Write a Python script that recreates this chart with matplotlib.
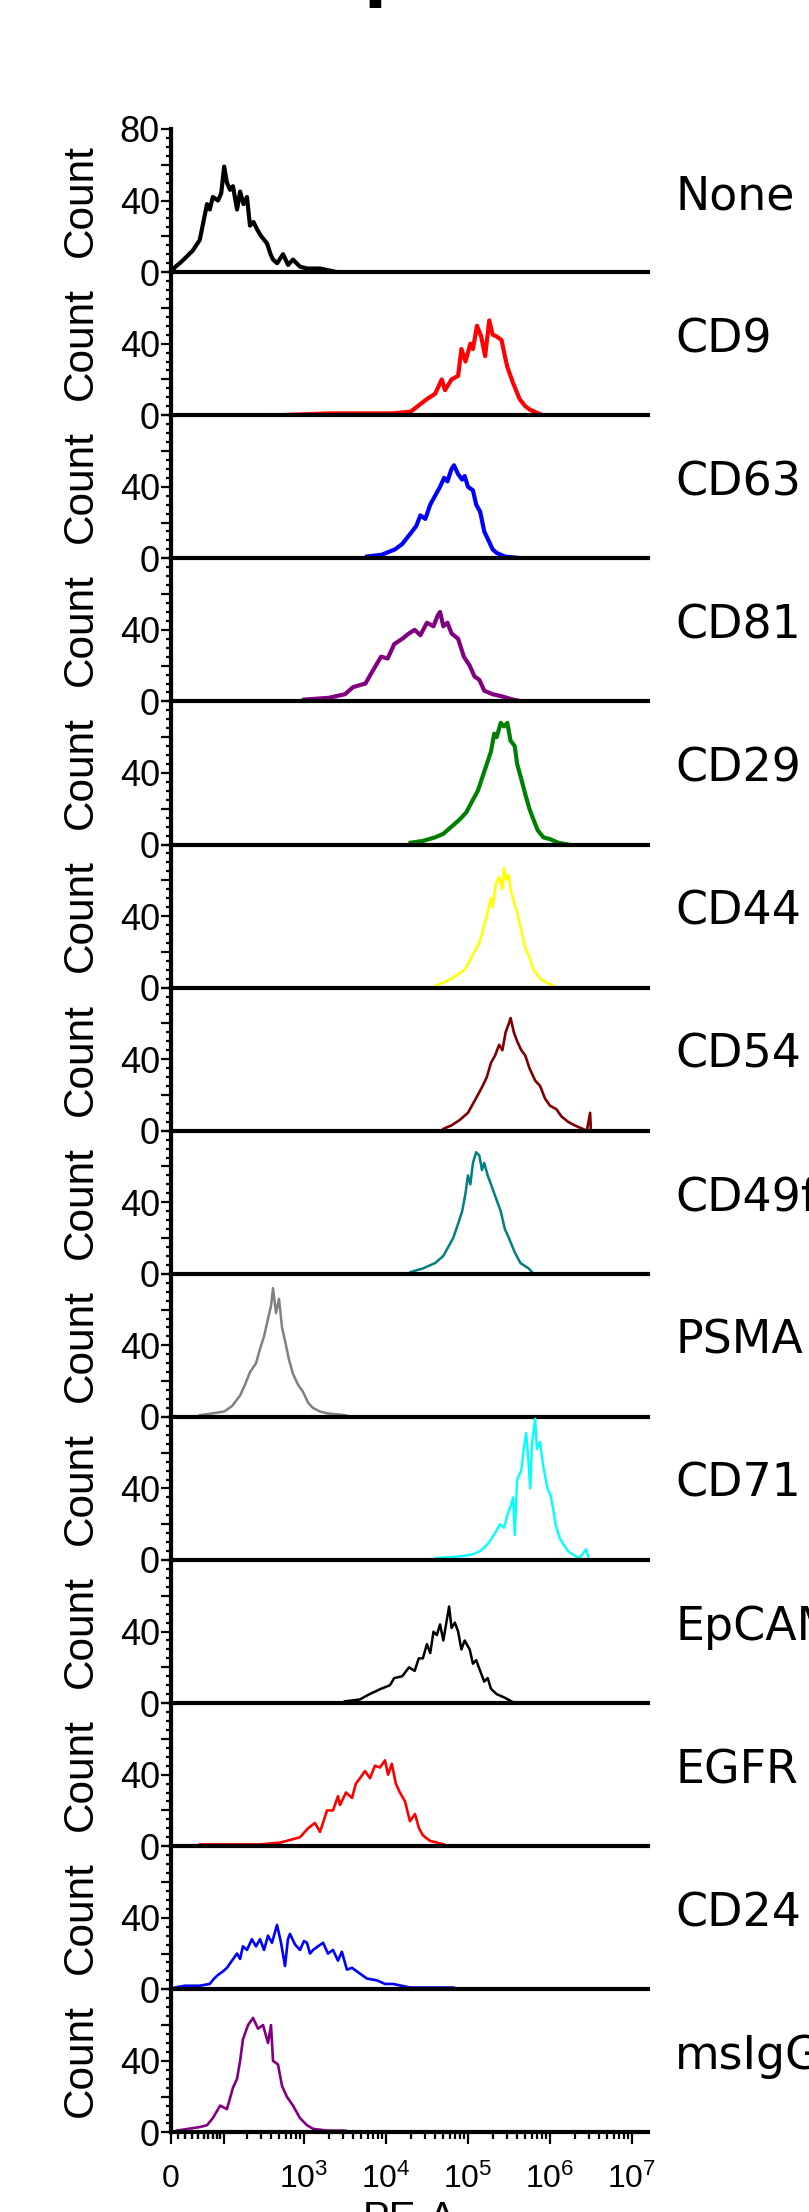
import numpy as np
import matplotlib
matplotlib.use("Agg")
import matplotlib.pyplot as plt
from matplotlib.ticker import MultipleLocator, FixedLocator

plt.rcParams["font.family"] = ["Liberation Sans", "DejaVu Sans"]
plt.rcParams["mathtext.default"] = "regular"

# ---- data (PE-A value, event count) ----
none_x = [0, 6, 12, 20, 31, 43, 49, 57, 63, 70, 83, 92, 101, 110, 121, 132, 149, 163, 180, 199,
          217, 240, 265, 300, 353, 390, 418, 470, 555, 640, 734, 894, 1100, 1568, 2525]
none_y = [0, 3, 5, 8, 12, 18, 27, 38, 35, 42, 40, 44, 59, 50, 46, 48, 35, 45, 38, 42,
          26, 28, 24, 20, 16, 10, 7, 5, 10, 4, 7, 3, 2, 2, 0]

cd9_x = [500, 2.0e3, 6.0e3, 1.22e4, 2.0e4, 3.16e4, 3.98e4, 4.79e4, 5.25e4, 6.31e4, 7.59e4, 8.32e4,
         9.33e4, 1.07e5, 1.15e5, 1.29e5, 1.45e5, 1.62e5, 1.82e5, 2.0e5, 2.24e5, 2.57e5, 2.82e5,
         3.02e5, 3.55e5, 4.27e5, 5.01e5, 5.75e5, 8.13e5]
cd9_y = [0, 1, 1, 1, 2, 9, 12, 20, 14, 20, 22, 37, 30, 40, 37, 50, 44, 33, 53, 45, 44, 42, 33,
         27, 18, 9, 5, 3, 0]

cd63_x = [5.89e3, 8.91e3, 1.29e4, 1.58e4, 2.0e4, 2.34e4, 2.63e4, 3.02e4, 3.47e4, 3.98e4, 4.57e4,
          5.13e4, 5.62e4, 6.31e4, 6.76e4, 7.59e4, 8.51e4, 9.12e4, 1.0e5, 1.15e5, 1.26e5, 1.41e5,
          1.58e5, 1.78e5, 2.0e5, 2.24e5, 2.82e5, 4.57e5]
cd63_y = [1, 2, 5, 8, 14, 18, 24, 22, 30, 35, 40, 45, 43, 50, 52, 47, 44, 46, 40, 38, 30, 26,
          15, 10, 5, 3, 1, 0]

cd81_x = [1.0e3, 2.0e3, 3.16e3, 3.98e3, 5.62e3, 7.08e3, 8.71e3, 1.05e4, 1.26e4, 1.58e4, 1.91e4,
          2.24e4, 2.63e4, 3.16e4, 3.8e4, 4.27e4, 4.57e4, 5.01e4, 5.62e4, 6.31e4, 7.59e4, 8.91e4,
          1.05e5, 1.2e5, 1.38e5, 1.58e5, 2.0e5, 2.51e5, 3.55e5, 4.57e5]
cd81_y = [1, 2, 4, 8, 10, 18, 25, 24, 32, 35, 38, 40, 37, 44, 42, 48, 50, 42, 44, 38, 35, 25,
          20, 14, 12, 6, 4, 3, 1, 0]

cd29_x = [2.0e4, 2.82e4, 3.98e4, 5.01e4, 6.31e4, 7.94e4, 9.55e4, 1.15e5, 1.32e5, 1.51e5, 1.7e5,
          1.91e5, 2.09e5, 2.24e5, 2.51e5, 2.75e5, 3.02e5, 3.31e5, 3.72e5, 3.98e5, 4.57e5, 5.01e5,
          5.62e5, 6.17e5, 7.08e5, 8.32e5, 1.0e6, 1.26e6, 1.66e6]
cd29_y = [1, 2, 4, 6, 10, 14, 18, 25, 30, 38, 45, 52, 62, 60, 68, 66, 68, 58, 55, 45, 35, 28,
          20, 15, 8, 4, 3, 1, 0]

cd44_x = [3.98e4, 5.13e4, 6.31e4, 7.94e4, 9.12e4, 1.05e5, 1.2e5, 1.38e5, 1.58e5, 1.74e5, 1.91e5,
          2.0e5, 2.19e5, 2.4e5, 2.63e5, 2.75e5, 2.95e5, 3.16e5, 3.31e5, 3.63e5, 3.98e5, 4.17e5,
          4.57e5, 5.01e5, 5.5e5, 6.31e5, 7.59e5, 8.91e5, 1.23e6]
cd44_y = [1, 3, 5, 8, 10, 15, 20, 25, 35, 42, 50, 45, 58, 62, 55, 67, 60, 63, 55, 48, 42, 38,
          30, 22, 18, 10, 5, 3, 0]

cd54_x = [5.01e4, 6.31e4, 7.94e4, 1.0e5, 1.15e5, 1.32e5, 1.51e5, 1.7e5, 1.91e5, 2.14e5, 2.4e5,
          2.63e5, 2.88e5, 3.16e5, 3.31e5, 3.63e5, 3.98e5, 4.47e5, 5.01e5, 5.62e5, 6.61e5, 7.59e5,
          8.71e5, 1.0e6, 1.2e6, 1.38e6, 1.66e6, 2.0e6, 2.24e6, 2.82e6, 3.09e6, 3.16e6]
cd54_y = [1, 3, 6, 10, 15, 20, 25, 30, 38, 42, 48, 45, 55, 60, 63, 55, 50, 45, 42, 35, 28, 25,
          18, 14, 12, 8, 5, 3, 2, 0, 10, 0]

cd49f_x = [2.0e4, 2.82e4, 3.98e4, 5.01e4, 5.75e4, 6.61e4, 7.59e4, 8.51e4, 9.33e4, 1.0e5, 1.07e5,
           1.15e5, 1.26e5, 1.38e5, 1.48e5, 1.58e5, 1.74e5, 1.91e5, 2.09e5, 2.29e5, 2.51e5, 2.82e5,
           3.16e5, 3.72e5, 4.37e5, 5.5e5, 6.31e5]
cd49f_y = [1, 3, 6, 10, 15, 20, 28, 35, 45, 55, 50, 62, 68, 66, 58, 62, 55, 50, 45, 40, 35, 25,
           20, 12, 6, 3, 0]

psma_x = [43, 70, 101, 128, 163, 188, 217, 258, 289, 324, 363, 395, 418, 455, 495, 539, 603, 656,
          734, 846, 973, 1120, 1287, 1568, 1908, 3165, 3640]
psma_y = [1, 2, 3, 6, 12, 18, 25, 30, 38, 45, 55, 62, 72, 58, 66, 50, 40, 32, 24, 18, 14, 8, 5,
          3, 2, 1, 0]

cd71_x = [3.98e4, 7.76e4, 1.12e5, 1.41e5, 1.66e5, 1.82e5, 2.14e5, 2.45e5, 2.75e5, 3.02e5, 3.31e5,
          3.55e5, 3.72e5, 3.98e5, 4.47e5, 4.79e5, 5.13e5, 5.37e5, 5.75e5, 6.03e5, 6.61e5, 6.92e5,
          7.59e5, 8.13e5, 8.71e5, 9.33e5, 1.02e6, 1.1e6, 1.17e6, 1.32e6, 1.45e6, 1.66e6, 1.91e6,
          2.29e6, 2.75e6, 3.02e6]
cd71_y = [1, 2, 3, 5, 8, 10, 15, 20, 18, 25, 30, 35, 14, 45, 50, 62, 71, 60, 40, 65, 79, 62,
          66, 55, 47, 40, 36, 28, 20, 12, 9, 5, 3, 1, 6, 0]

epcam_x = [3.16e3, 4.79e3, 6.31e3, 8.71e3, 1.12e4, 1.26e4, 1.58e4, 1.91e4, 2.24e4, 2.51e4, 2.82e4,
           3.16e4, 3.47e4, 3.8e4, 4.17e4, 4.57e4, 5.01e4, 5.5e4, 5.89e4, 6.31e4, 6.92e4, 7.59e4,
           8.32e4, 9.12e4, 1.05e5, 1.15e5, 1.26e5, 1.41e5, 1.58e5, 1.74e5, 1.91e5, 2.24e5, 2.82e5,
           3.72e5]
epcam_y = [1, 2, 5, 8, 10, 14, 15, 20, 18, 25, 25, 33, 28, 40, 38, 44, 35, 46, 54, 42, 45, 40,
           30, 35, 30, 22, 24, 18, 12, 14, 8, 5, 3, 0]

egfr_x = [43, 289, 509, 617, 894, 1120, 1.36e3, 1.57e3, 1.91e3, 2.26e3, 2.6e3, 2.75e3, 3.25e3,
          3.85e3, 4.3e3, 4.82e3, 5.55e3, 6.38e3, 7.35e3, 8.45e3, 9.73e3, 1.06e4, 1.18e4, 1.32e4,
          1.48e4, 1.71e4, 1.96e4, 2.26e4, 2.53e4, 2.83e4, 3.44e4, 4.19e4, 6.03e4]
egfr_y = [1, 1, 2, 3, 5, 10, 13, 8, 20, 20, 28, 23, 30, 27, 35, 38, 42, 38, 45, 44, 48, 40, 46,
          35, 30, 25, 14, 18, 10, 6, 3, 2, 0]

cd24_x = [5.4, 19, 43, 63, 73, 83, 97, 110, 128, 149, 163, 177, 199, 229, 258, 289, 324, 363,
          406, 468, 524, 586, 637, 674, 777, 894, 1000, 1088, 1184, 1290, 1480, 1710, 1960, 2260,
          2600, 2900, 3340, 3850, 4430, 5090, 5860, 7770, 9730, 1.22e4, 1.96e4, 6.56e4, 7.98e4]
cd24_y = [1, 2, 2, 3, 6, 8, 10, 12, 16, 20, 17, 24, 22, 28, 24, 28, 22, 30, 26, 36, 26, 13, 28,
          31, 25, 22, 27, 26, 20, 22, 24, 26, 20, 22, 16, 21, 11, 12, 10, 8, 6, 5, 3, 3, 1, 1, 0]

msigg_x = [8, 43, 57, 70, 89, 110, 132, 149, 163, 177, 205, 237, 273, 315, 363, 395, 418, 481,
           539, 617, 734, 894, 1088, 1290, 1910, 3170, 3640]
msigg_y = [1, 3, 4, 8, 15, 13, 25, 30, 40, 52, 60, 64, 58, 60, 50, 60, 40, 38, 26, 20, 15, 8, 4,
           2, 1, 1, 0]

names = ["None", "CD9", "CD63", "CD81", "CD29", "CD44", "CD54", "CD49f", "PSMA", "CD71",
         "EpCAM", "EGFR", "CD24", "msIgG"]
series = [(none_x, none_y), (cd9_x, cd9_y), (cd63_x, cd63_y), (cd81_x, cd81_y),
          (cd29_x, cd29_y), (cd44_x, cd44_y), (cd54_x, cd54_y), (cd49f_x, cd49f_y),
          (psma_x, psma_y), (cd71_x, cd71_y), (epcam_x, epcam_y), (egfr_x, egfr_y),
          (cd24_x, cd24_y), (msigg_x, msigg_y)]
colors = ["black", "#ff0000", "#0000ff", "#800080", "#008000", "#ffff00", "#800000",
          "#008080", "#808080", "#00ffff", "black", "#ff0000", "#0000ff", "#800080"]
widths = [3.0, 3.0, 3.0, 3.0, 3.0, 1.8, 1.9, 1.8, 1.8, 1.7, 1.8, 1.9, 1.9, 1.9]

xmax = 1.57e7

# biexponential-like display (linear near 0, log above ~10^3)
C = 47.8
LN10 = np.log(10)


def fwd(x):
    return np.arcsinh(np.asarray(x, dtype=float) / C) / LN10


def inv(y):
    return C * np.sinh(np.asarray(y, dtype=float) * LN10)


W, H = 809, 2212
fig = plt.figure(figsize=(W / 100, H / 100), dpi=100)
x0, x1 = 171, 648
top0, ph = 129, 143.1
n = len(names)

for i, (name, (xs, ys), col, lw) in enumerate(zip(names, series, colors, widths)):
    top = top0 + ph * i
    ax = fig.add_axes([x0 / W, 1 - (top + ph) / H, (x1 - x0) / W, ph / H])
    ax.patch.set_alpha(0)
    ax.set_xscale("function", functions=(fwd, inv))
    ax.set_xlim(0, xmax)
    ax.set_ylim(0, 80)
    ax.plot(xs, ys, color=col, lw=lw, solid_joinstyle="round", zorder=2)

    for s in ("top", "right"):
        ax.spines[s].set_visible(False)
    for s in ("left", "bottom"):
        ax.spines[s].set_linewidth(3.0)
        ax.spines[s].set_zorder(3)

    ax.set_yticks([0, 20, 40, 60, 80])
    ax.set_yticklabels(["0", "", "40", "", "80" if i == 0 else ""])
    ax.yaxis.set_minor_locator(MultipleLocator(5))
    ax.tick_params(axis="y", which="major", length=7, width=1.6, labelsize=26, pad=1)
    ax.tick_params(axis="y", which="minor", length=3.6, width=1.6)

    if i < n - 1:
        ax.tick_params(axis="x", which="both", bottom=False, labelbottom=False)
    else:
        ax.set_xticks([0, 100, 1e3, 1e4, 1e5, 1e6, 1e7])
        ax.set_xticklabels(["0", "", "$10^3$", "$10^4$", "$10^5$", "$10^6$", "$10^7$"])
        minors = [k * 10 ** e for e in range(1, 7) for k in range(2, 10)] + list(range(10, 100, 10))
        ax.xaxis.set_minor_locator(FixedLocator(minors))
        ax.tick_params(axis="x", which="major", length=8.5, width=1.6, labelsize=23, pad=14)
        ax.tick_params(axis="x", which="minor", length=5, width=1.6)

    yc = 1 - (top + ph / 2) / H
    fig.text(81 / W, yc, "Count", rotation=90, fontsize=30.5, ha="center", va="center")
    # the reference itself runs the longer names past the right edge
    fig.text(675 / W, yc + 4 / H, name, fontsize=33, family="DejaVu Sans",
             ha="left", va="center")

fig.text((x0 + x1) / 2 / W, 1 - 2200 / H, "PE-A", fontsize=29, ha="center", va="top")
fig.text(375 / W, 1 - 8 / H, "l", fontsize=48, fontweight="bold", family="DejaVu Sans",
         ha="center", va="baseline")

fig.savefig("out.png", dpi=100)
